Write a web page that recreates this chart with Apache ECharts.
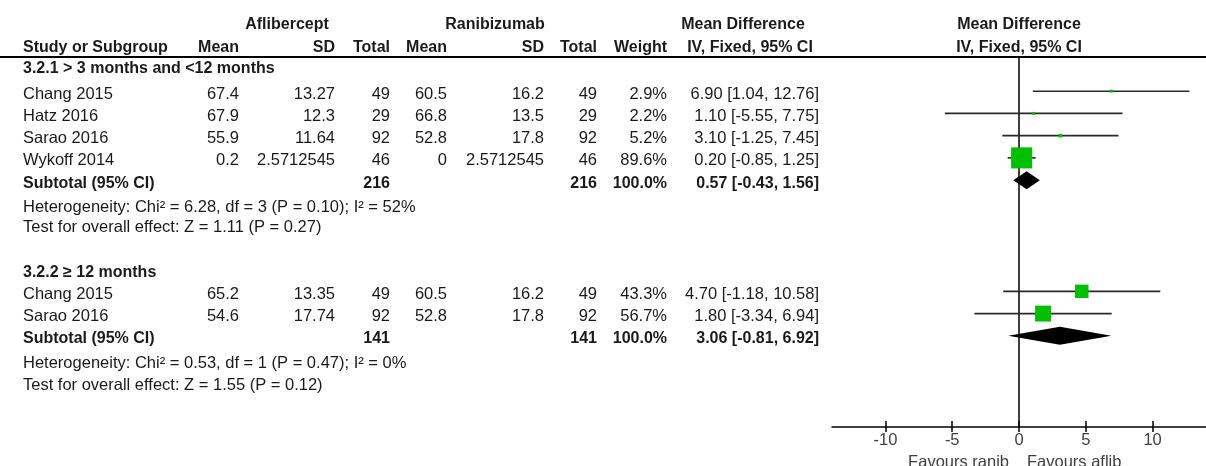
<!DOCTYPE html>
<html>
<head>
<meta charset="utf-8">
<script src="https://cdn.jsdelivr.net/npm/echarts@6/dist/echarts.min.js"></script>
<style>
  html, body { margin: 0; padding: 0; background: #fff; }
  #chart { width: 1206px; height: 466px; }
</style>
</head>
<body>
<div id="chart"></div>
<script>
// ---- Study data (mean difference, IV fixed effect) ----
const studyNames = ['Chang 2015', 'Hatz 2016', 'Sarao 2016', 'Wykoff 2014', 'Chang 2015', 'Sarao 2016'];
const studyGroup = [0, 0, 0, 0, 1, 1];
const afliMean   = [67.4, 67.9, 55.9, 0.2, 65.2, 54.6];
const afliSD     = ['13.27', '12.3', '11.64', '2.5712545', '13.35', '17.74'];
const afliTotal  = [49, 29, 92, 46, 49, 92];
const raniMean   = [60.5, 66.8, 52.8, 0, 60.5, 52.8];
const raniSD     = ['16.2', '13.5', '17.8', '2.5712545', '16.2', '17.8'];
const raniTotal  = [49, 29, 92, 46, 49, 92];
const weights    = [2.9, 2.2, 5.2, 89.6, 43.3, 56.7];
const meanDiff   = [6.90, 1.10, 3.10, 0.20, 4.70, 1.80];
const ciLow      = [1.04, -5.55, -1.25, -0.85, -1.18, -3.34];
const ciHigh     = [12.76, 7.75, 7.45, 1.25, 10.58, 6.94];

// ---- Subgroup summaries ----
const subgroupLabels = ['3.2.1 > 3 months and <12 months', '3.2.2 \u2265 12 months'];
const subAfliTotal = [216, 141];
const subRaniTotal = [216, 141];
const subMeanDiff  = [0.57, 3.06];
const subLow       = [-0.43, -0.81];
const subHigh      = [1.56, 6.92];
const heterogeneity = [
  'Heterogeneity: Chi\u00b2 = 6.28, df = 3 (P = 0.10); I\u00b2 = 52%',
  'Heterogeneity: Chi\u00b2 = 0.53, df = 1 (P = 0.47); I\u00b2 = 0%'
];
const overallEffect = [
  'Test for overall effect: Z = 1.11 (P = 0.27)',
  'Test for overall effect: Z = 1.55 (P = 0.12)'
];

// ---- Axis ----
const xTicks = [-10, -5, 0, 5, 10];
const axisLabelsFavour = ['Favours ranib', 'Favours aflib'];

// ---- Row layout (row units on the vertical axis) ----
const groupHeaderRow = [-1.13, 8.02];
const groupFirstRow  = [0, 9];
const subtotalRow    = [4, 11];
const hetRow         = [5.1, 12.1];
const testRow        = [6.0, 13.08];
const ROW_MIN = -4.1, ROW_MAX = 15.1;
const HEADER_LINE_ROW = -1.54;

// column anchors (table x axis runs 0..1206)
const COL = {
  study: 23, aMean: 239, aSD: 335, aTot: 390, rMean: 447, rSD: 544, rTot: 597,
  weight: 667, ci: 819, afliHead: 287, raniHead: 495, mdHead: 743, ivHead: 750
};

const FONT = '"Liberation Sans", Arial, sans-serif';
const TXT = '#1a1a1a';

function fmtCI(m, lo, hi) {
  return m.toFixed(2) + ' [' + lo.toFixed(2) + ', ' + hi.toFixed(2) + ']';
}

const studyRow = [];
(function () {
  const counters = [0, 0];
  studyNames.forEach((_, i) => {
    const g = studyGroup[i];
    studyRow.push(groupFirstRow[g] + counters[g]);
    counters[g]++;
  });
})();

// ---- table cells ----
const cells = [];
function cell(x, row, text, align, bold) { cells.push({ x, row, text: String(text), align, bold: !!bold }); }

cell(COL.afliHead, -3.15, 'Aflibercept', 'center', true);
cell(COL.raniHead, -3.15, 'Ranibizumab', 'center', true);
cell(COL.mdHead, -3.15, 'Mean Difference', 'center', true);
cell(COL.study, -2.1, 'Study or Subgroup', 'left', true);
cell(COL.aMean, -2.1, 'Mean', 'right', true);
cell(COL.aSD, -2.1, 'SD', 'right', true);
cell(COL.aTot, -2.1, 'Total', 'right', true);
cell(COL.rMean, -2.1, 'Mean', 'right', true);
cell(COL.rSD, -2.1, 'SD', 'right', true);
cell(COL.rTot, -2.1, 'Total', 'right', true);
cell(COL.weight, -2.1, 'Weight', 'right', true);
cell(COL.ivHead, -2.1, 'IV, Fixed, 95% CI', 'center', true);

studyNames.forEach((name, i) => {
  const r = studyRow[i];
  cell(COL.study, r, name, 'left');
  cell(COL.aMean, r, afliMean[i], 'right');
  cell(COL.aSD, r, afliSD[i], 'right');
  cell(COL.aTot, r, afliTotal[i], 'right');
  cell(COL.rMean, r, raniMean[i], 'right');
  cell(COL.rSD, r, raniSD[i], 'right');
  cell(COL.rTot, r, raniTotal[i], 'right');
  cell(COL.weight, r, weights[i].toFixed(1) + '%', 'right');
  cell(COL.ci, r, fmtCI(meanDiff[i], ciLow[i], ciHigh[i]), 'right');
});

subgroupLabels.forEach((label, g) => {
  cell(COL.study, groupHeaderRow[g], label, 'left', true);
  const r = subtotalRow[g];
  cell(COL.study, r, 'Subtotal (95% CI)', 'left', true);
  cell(COL.aTot, r, subAfliTotal[g], 'right', true);
  cell(COL.rTot, r, subRaniTotal[g], 'right', true);
  cell(COL.weight, r, '100.0%', 'right', true);
  cell(COL.ci, r, fmtCI(subMeanDiff[g], subLow[g], subHigh[g]), 'right', true);
  cell(COL.study, hetRow[g], heterogeneity[g], 'left');
  cell(COL.study, testRow[g], overallEffect[g], 'left');
});

// forest header
const forestHeads = [
  { row: -3.15, text: 'Mean Difference' },
  { row: -2.1, text: 'IV, Fixed, 95% CI' }
];

// square side grows with study weight, with a visible minimum
function squareSize(w) { return Math.max(3, 1.3 * Math.pow(w, 0.62)); }

const chart = echarts.init(document.getElementById('chart'), null, { renderer: 'canvas' });

const option = {
  animation: false,
  backgroundColor: '#fff',
  grid: [
    { left: 0, right: 0, top: 0, bottom: 39 },
    { left: 832, right: 0, top: 0, bottom: 39 }
  ],
  xAxis: [
    { gridIndex: 0, type: 'value', min: 0, max: 1206, show: false },
    {
      gridIndex: 1, type: 'value', min: -14, max: 14, position: 'bottom',
      axisLine: { show: true, onZero: false, lineStyle: { color: '#000', width: 1.5 } },
      axisTick: { show: true, inside: true, length: 6, customValues: xTicks, lineStyle: { color: '#000', width: 1.5 } },
      axisLabel: { show: true, customValues: xTicks, margin: 5, color: '#404040', fontSize: 16.5, fontFamily: FONT },
      splitLine: { show: false }
    },
    {
      gridIndex: 1, type: 'value', min: -14, max: 14, position: 'bottom', offset: 0,
      axisLine: { show: false, onZero: false },
      axisTick: { show: true, inside: false, length: 5, customValues: xTicks, lineStyle: { color: '#000', width: 1.5 } },
      axisLabel: { show: false },
      splitLine: { show: false }
    }
  ],
  yAxis: [
    { gridIndex: 0, type: 'value', min: ROW_MIN, max: ROW_MAX, inverse: true, show: false },
    { gridIndex: 1, type: 'value', min: ROW_MIN, max: ROW_MAX, inverse: true, show: false }
  ],
  series: [
    // header rule across the table
    {
      type: 'custom', xAxisIndex: 0, yAxisIndex: 0,
      data: [[0, HEADER_LINE_ROW]],
      renderItem(params, api) {
        const a = api.coord([0, HEADER_LINE_ROW]);
        const b = api.coord([1206, HEADER_LINE_ROW]);
        return { type: 'line', shape: { x1: a[0], y1: a[1], x2: b[0], y2: b[1] }, style: { stroke: '#000', lineWidth: 2 } };
      }
    },
    // table text
    {
      type: 'custom', xAxisIndex: 0, yAxisIndex: 0,
      data: cells.map(c => [c.x, c.row]),
      renderItem(params, api) {
        const c = cells[params.dataIndex];
        const p = api.coord([c.x, c.row]);
        return {
          type: 'text', x: p[0], y: p[1] + 3,
          style: {
            text: c.text, fill: TXT,
            font: (c.bold ? 'bold 16px ' : '16.5px ') + FONT,
            align: c.align, verticalAlign: 'middle'
          }
        };
      }
    },
    // forest header text
    {
      type: 'custom', xAxisIndex: 1, yAxisIndex: 1,
      data: forestHeads.map(h => [0, h.row]),
      renderItem(params, api) {
        const h = forestHeads[params.dataIndex];
        const p = api.coord([0, h.row]);
        return {
          type: 'text', x: p[0], y: p[1] + 3,
          style: { text: h.text, fill: TXT, font: 'bold 16px ' + FONT, align: 'center', verticalAlign: 'middle' }
        };
      }
    },
    // favour labels under the axis
    {
      type: 'custom', xAxisIndex: 1, yAxisIndex: 1,
      data: [[0, ROW_MAX]],
      renderItem(params, api) {
        const p = api.coord([0, ROW_MAX]);
        return {
          type: 'group',
          children: [
            { type: 'text', x: p[0] - 10, y: p[1] + 35, style: { text: axisLabelsFavour[0], fill: '#404040', font: '16.5px ' + FONT, align: 'right', verticalAlign: 'middle' } },
            { type: 'text', x: p[0] + 8, y: p[1] + 35, style: { text: axisLabelsFavour[1], fill: '#404040', font: '16.5px ' + FONT, align: 'left', verticalAlign: 'middle' } }
          ]
        };
      }
    },
    // line of no effect
    {
      type: 'custom', xAxisIndex: 1, yAxisIndex: 1,
      data: [[0, HEADER_LINE_ROW]],
      z: 1,
      renderItem(params, api) {
        const a = api.coord([0, HEADER_LINE_ROW]);
        const b = api.coord([0, ROW_MAX]);
        return { type: 'line', shape: { x1: a[0], y1: a[1], x2: b[0], y2: b[1] }, style: { stroke: '#000', lineWidth: 1.5 } };
      }
    },
    // study CIs and weighted squares
    {
      type: 'custom', xAxisIndex: 1, yAxisIndex: 1, z: 3,
      data: studyNames.map((_, i) => [meanDiff[i], studyRow[i], ciLow[i], ciHigh[i], weights[i]]),
      renderItem(params, api) {
        const m = api.value(0), r = api.value(1), lo = api.value(2), hi = api.value(3), w = api.value(4);
        const pl = api.coord([lo, r]), ph = api.coord([hi, r]), pm = api.coord([m, r]);
        const s = squareSize(w);
        return {
          type: 'group',
          children: [
            { type: 'line', shape: { x1: pl[0], y1: pl[1], x2: ph[0], y2: ph[1] }, style: { stroke: '#2a2a2a', lineWidth: 1.6 } },
            { type: 'rect', shape: { x: pm[0] - s / 2, y: pm[1] - s / 2, width: s, height: s }, style: { fill: '#00c000' } }
          ]
        };
      }
    },
    // subtotal diamonds
    {
      type: 'custom', xAxisIndex: 1, yAxisIndex: 1, z: 3,
      data: subMeanDiff.map((m, g) => [m, subtotalRow[g], subLow[g], subHigh[g]]),
      renderItem(params, api) {
        const m = api.value(0), r = api.value(1), lo = api.value(2), hi = api.value(3);
        const pl = api.coord([lo, r]), ph = api.coord([hi, r]), pm = api.coord([m, r]);
        const h = 9;
        return {
          type: 'polygon',
          shape: { points: [[pl[0], pm[1]], [pm[0], pm[1] - h], [ph[0], pm[1]], [pm[0], pm[1] + h]] },
          style: { fill: '#000' }
        };
      }
    }
  ]
};

chart.setOption(option);
</script>
</body>
</html>
